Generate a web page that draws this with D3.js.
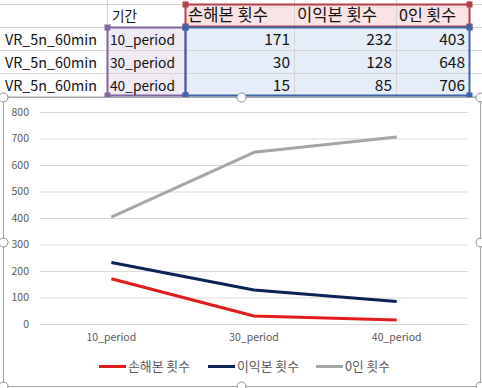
<!DOCTYPE html>
<html><head><meta charset="utf-8">
<script src="https://cdn.jsdelivr.net/npm/d3@7"></script>
<style>html,body{margin:0;padding:0;background:#fff;overflow:hidden}</style>
</head><body>
<svg id="c" width="482" height="388"></svg>
<script>
const rowLabels = ["VR_5n_60min","VR_5n_60min","VR_5n_60min"];
const headerCat = "기간";
const categories = ["10_period","30_period","40_period"];
const seriesNames = ["손해본 횟수","이익본 횟수","0인 횟수"];
const lossCounts = [171,30,15];
const profitCounts = [232,128,85];
const zeroCounts = [403,648,706];
const yTicks = [0,100,200,300,400,500,600,700,800];
const seriesColors = ["#e31b1b","#0b2357","#a5a5a5"];

const svg = d3.select("#c");
const font = "'Noto Sans CJK KR','Noto Sans',sans-serif";
const series = [lossCounts, profitCounts, zeroCounts];

// scale font size so the text reaches a target width
function fit(sel, w){
  const n = sel.node();
  const fs = parseFloat(sel.attr("font-size"));
  const len = n.getComputedTextLength();
  if(len>0) sel.attr("font-size", fs*w/len);
  return sel;
}

// ---- spreadsheet ----
const colX = [0,107,185,294,396,469,482];
const rowY = [-19,4,27,50,73,96];
const g0 = svg.append("g");
g0.append("rect").attr("x",185).attr("y",4).attr("width",284).attr("height",23).attr("fill","#f9e3e4");
g0.append("rect").attr("x",107).attr("y",27).attr("width",78).attr("height",69).attr("fill","#efeaf4");
g0.append("rect").attr("x",185).attr("y",27).attr("width",284).attr("height",69).attr("fill","#e5edf8");
colX.slice(1,6).forEach(x=>g0.append("line").attr("x1",x+0.5).attr("x2",x+0.5).attr("y1",0).attr("y2",100).attr("stroke","#d4d4d4"));
rowY.slice(1).forEach(y=>g0.append("line").attr("x1",0).attr("x2",482).attr("y1",y+0.5).attr("y2",y+0.5).attr("stroke","#d4d4d4"));
function rangeBox(x,y,w,h,c){
  g0.append("rect").attr("x",x+0.5).attr("y",y+0.5).attr("width",w).attr("height",h).attr("fill","none").attr("stroke",c).attr("stroke-width",2);
  [[x,y],[x+w,y],[x,y+h],[x+w,y+h]].forEach(p=>g0.append("rect").attr("x",p[0]-2.5).attr("y",p[1]-2.5).attr("width",6).attr("height",6).attr("fill",c));
}
rangeBox(185,4,284,22,"#b5404c");
rangeBox(107,27,78,68,"#8064a2");
rangeBox(185,27,284,68,"#3d66a8");
const tfs = 15;
function cellText(x,y,s,anchor){
  return g0.append("text").attr("x",x).attr("y",y).attr("text-anchor",anchor||"start").text(s)
    .attr("font-family",font).attr("font-size",tfs).attr("fill","#111");
}
fit(cellText(112,21,headerCat),25);
const headW = [80,80,57];
seriesNames.forEach((s,i)=>fit(cellText(colX[i+2]+3,21,s),headW[i]));
rowLabels.forEach((s,i)=>{
  const y = rowY[i+2]+18;
  fit(cellText(5,y,s),92);
  fit(cellText(110,y,categories[i]),65);
  series.forEach((arr,j)=>{
    const t = cellText(colX[j+3]-4,y,arr[i],"end");
    t.attr("font-size",15.5);
  });
});

// ---- chart ----
const cx0=3, cy0=97, cx1=480, cy1=386;
const gc = svg.append("g");
gc.append("rect").attr("x",cx0+0.5).attr("y",cy0+0.5).attr("width",cx1-cx0).attr("height",cy1-cy0).attr("fill","#fff").attr("stroke","#a6a6a6").attr("stroke-width",1);

const x = d3.scaleBand().domain(categories).range([40,468]);
const y = d3.scaleLinear().domain([0,800]).range([324,112]);

const yAxis = d3.axisLeft(y).tickValues(yTicks).tickSize(-(468-40)).tickPadding(11);
const ya = gc.append("g").attr("transform","translate(40,0)").call(yAxis);
ya.select(".domain").remove();
ya.selectAll(".tick line").attr("stroke","#d9d9d9").attr("stroke-width",1);
ya.selectAll(".tick text").attr("fill","#595959").attr("font-size",10.5).attr("font-family",font);

const xAxis = d3.axisBottom(x).tickSize(0).tickPadding(10);
const xa = gc.append("g").attr("transform","translate(0,324)").call(xAxis);
xa.select(".domain").remove();
xa.selectAll(".tick text").attr("fill","#595959").attr("font-size",10.5).attr("font-family",font);

const line = d3.line().x((d,i)=>x(categories[i])+x.bandwidth()/2).y(d=>y(d));
series.forEach((arr,j)=>{
  gc.append("path").datum(arr).attr("d",line).attr("fill","none").attr("stroke",seriesColors[j]).attr("stroke-width",3).attr("stroke-linejoin","round");
});

// legend
const legX = [99,208,316];
const legW = [62,62,45];
seriesNames.forEach((s,j)=>{
  gc.append("line").attr("x1",legX[j]).attr("x2",legX[j]+27).attr("y1",366.5).attr("y2",366.5).attr("stroke",seriesColors[j]).attr("stroke-width",3);
  fit(gc.append("text").attr("x",legX[j]+29).attr("y",371).text(s).attr("font-family",font).attr("font-size",12).attr("fill","#595959"), legW[j]);
});

// handles
[[cx0,cy0],[241,cy0],[cx1,cy0],[cx0,242],[cx1,242],[cx0,cy1],[241,cy1],[cx1,cy1]].forEach(p=>{
  svg.append("circle").attr("cx",p[0]+0.5).attr("cy",p[1]+0.5).attr("r",4.5).attr("fill","#fff").attr("stroke","#8c8c8c").attr("stroke-width",1);
});
</script>
</body></html>
